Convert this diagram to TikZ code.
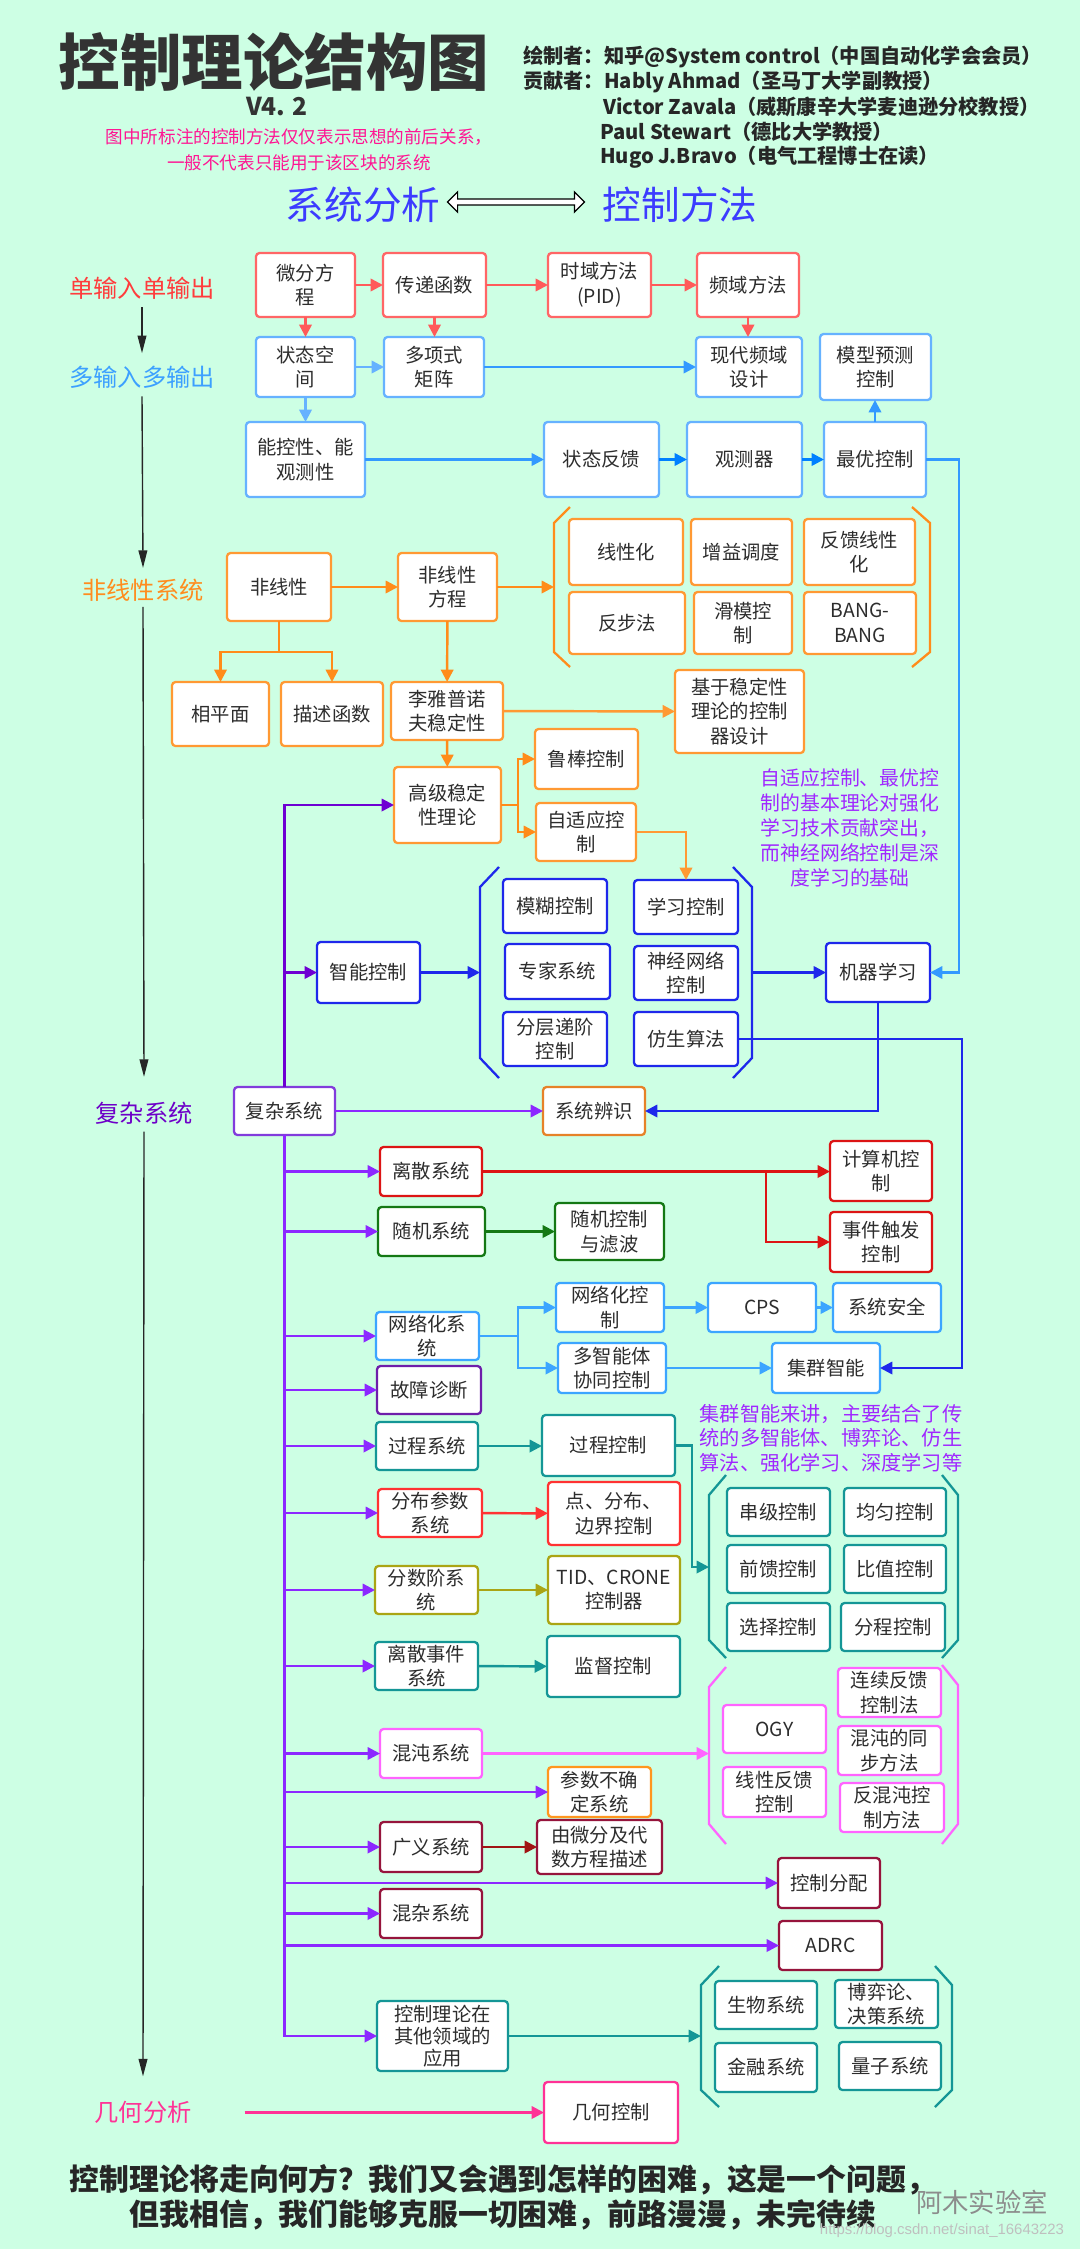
\documentclass[tikz,border=0pt]{standalone}
\usepackage{fontspec}
\setmainfont{Noto Sans CJK SC}
\newfontfamily\wmfont{Liberation Sans}
\usetikzlibrary{arrows.meta,shapes.arrows}
\definecolor{bg}{RGB}{205,255,228}
\definecolor{txtc}{RGB}{45,45,45}
\definecolor{redB}{RGB}{255,102,102}
\definecolor{redA}{RGB}{255,90,90}
\definecolor{blueB}{RGB}{102,178,255}
\definecolor{blueA}{RGB}{51,153,255}
\definecolor{blueD}{RGB}{0,128,255}
\definecolor{oraB}{RGB}{255,153,51}
\definecolor{oraA}{RGB}{255,140,26}
\definecolor{ibl}{RGB}{30,40,235}
\definecolor{purp}{RGB}{110,0,210}
\definecolor{vio}{RGB}{140,40,255}
\definecolor{fzc}{RGB}{130,60,220}
\definecolor{bsc}{RGB}{230,130,40}
\definecolor{redD}{RGB}{220,20,20}
\definecolor{grn}{RGB}{20,120,20}
\definecolor{nbl}{RGB}{60,165,255}
\definecolor{fault}{RGB}{110,30,170}
\definecolor{teal}{RGB}{20,150,150}
\definecolor{red2}{RGB}{255,50,50}
\definecolor{olive}{RGB}{170,165,20}
\definecolor{pinkc}{RGB}{255,100,255}
\definecolor{ora2}{RGB}{255,150,30}
\definecolor{maroon}{RGB}{150,20,60}
\definecolor{darkred}{RGB}{160,20,20}
\definecolor{gpink}{RGB}{255,50,150}
\definecolor{annot}{RGB}{160,40,255}
\definecolor{tblue}{RGB}{60,60,255}
\definecolor{noteC}{RGB}{255,20,147}
\definecolor{labred}{RGB}{255,60,60}
\definecolor{labblue}{RGB}{60,160,255}
\definecolor{labora}{RGB}{255,140,30}
\definecolor{labpurp}{RGB}{110,0,200}
\tikzset{
  box/.style={draw=#1, line width=1.3pt, fill=white, rounded corners=2pt, inner sep=0pt, outer sep=0pt, align=center, text=txtc, font=\fontsize{11}{14}\selectfont},
  arr/.style={draw=#1, line width=1.4pt, -{Triangle[length=7pt,width=7pt]}},
  ln/.style={draw=#1, line width=1.4pt},
  brk/.style={draw=#1, line width=1.3pt},
  blk/.style={draw=black!85, line width=0.8pt, -{Triangle[length=10pt,width=5pt]}},
  lab/.style={text=#1, inner sep=0pt, font=\fontsize{13.8}{16}\selectfont},
}
\newcommand\bx[5]{\bxi{#1}#2;#3;{#4}{#5}}
\def\bxi#1#2,#3;#4,#5;#6#7{\node[box=#1, minimum width={((#4)-(#2))*0.02cm}, minimum height={((#5)-(#3))*0.02cm}] (#6) at ({((#2)+(#4))/2},{((#3)+(#5))/2}) {#7};}
\begin{document}
\begin{tikzpicture}[x=0.02cm,y=-0.02cm]
\fill[bg] (0,0) rectangle (1080,2249);
\useasboundingbox (0,0) rectangle (1080,2249);

% ---------- header ----------
\node[text=black!80, font=\bfseries\fontsize{35}{40}\selectfont] (title) at (274,62) {控制理论结构图};
\node[text=black!80, font=\bfseries\fontsize{14}{16}\selectfont] (ver) at (277,107) {V4. 2};
\node[text=noteC, align=center, font=\fontsize{10}{14.7}\selectfont] (note) at (299,150) {图中所标注的控制方法仅仅表示思想的前后关系，\\一般不代表只能用于该区块的系统};
\begin{scope}[every node/.style={anchor=west, inner sep=0pt, text=black!85, font=\bfseries\fontsize{11.5}{14}\selectfont}]
\node (cr1) at (523,57) {绘制者：知乎@System control（中国自动化学会会员）};
\node (cr2) at (523,82) {贡献者：Hably Ahmad（圣马丁大学副教授）};
\node (cr3) at (603,107) {Victor Zavala（威斯康辛大学麦迪逊分校教授）};
\node (cr4) at (600,132) {Paul Stewart（德比大学教授）};
\node (cr5) at (600,157) {Hugo J.Bravo（电气工程博士在读）};
\end{scope}
\node[text=tblue, font=\fontsize{22}{26}\selectfont] (xtfx) at (363,205) {系统分析};
\node[text=tblue, font=\fontsize{22}{26}\selectfont] (kzff) at (680,205) {控制方法};
\node[double arrow, draw=black, fill=white, line width=0.7pt, minimum height=2.74cm, inner sep=1.4pt, double arrow head extend=4pt] (darr) at (516,202) {};

% ---------- left labels ----------
\node[lab=labred] (lab1) at (142,288) {单输入单输出};
\node[lab=labblue] (lab2) at (142,377) {多输入多输出};
\node[lab=labora] (lab3) at (143,590) {非线性系统};
\node[lab=labpurp] (lab4) at (144,1113) {复杂系统};
\node[lab=gpink] (lab5) at (143,2112.5) {几何分析};
\draw[blk] ([yshift=-4.5pt]lab1.south) -- ([yshift=7pt]lab2.north);
\draw[blk] ([yshift=-4.5pt]lab2.south) -- ([yshift=6pt]lab3.north);
\draw[blk] ([yshift=-3pt]lab3.south) -- ([yshift=14pt]lab4.north);
\draw[blk] ([yshift=-4pt]lab4.south) -- ([yshift=14pt]lab5.north);

% ---------- SISO / MIMO ----------
\bx{redB}{256,253}{355,317}{wf}{微分方\\程}
\bx{redB}{383,253}{486,317}{cd}{传递函数}
\bx{redB}{548,253}{651,317}{sy}{时域方法\\(PID)}
\bx{redB}{697,253}{799,317}{py}{频域方法}
\bx{blueB}{256,337}{355,397}{zt}{状态空\\间}
\bx{blueB}{384,337}{484,397}{dx}{多项式\\矩阵}
\bx{blueB}{696,337}{802,397}{xd}{现代频域\\设计}
\bx{blueB}{820,334}{931,400}{mx}{模型预测\\控制}
\bx{blueB}{246,422}{365,497}{nk}{能控性、能\\观测性}
\bx{blueB}{544,422}{659,497}{zf}{状态反馈}
\bx{blueB}{687,422}{802,497}{gcq}{观测器}
\bx{blueB}{824,422}{926,497}{zy}{最优控制}
\draw[arr=redA] (wf) -- (cd);
\draw[arr=redA] (cd) -- (sy);
\draw[arr=redA] (sy) -- (py);
\draw[arr=redA] (wf) -- (zt);
\draw[arr=redA] (cd.south) -- (cd.south |- dx.north);
\draw[arr=redA] (py.south) -- (py.south |- xd.north);
\draw[arr=blueB] (zt) -- (dx);
\draw[arr=blueA] (dx) -- (xd);
\draw[arr=blueB] (zt) -- (nk);
\draw[arr=blueA] (nk) -- (zf);
\draw[arr=blueD] (zf) -- (gcq);
\draw[arr=blueD] (gcq) -- (zy);
\draw[arr=blueA] (zy.north) -- (zy.north |- mx.south);
\coordinate (rb1) at (959,459.5);

% ---------- nonlinear ----------
\bx{oraB}{227,553}{331,621}{fx}{非线性}
\bx{oraB}{398,553}{497,621}{fxe}{非线性\\方程}
\bx{oraB}{569,519}{683,585}{xxh}{线性化}
\bx{oraB}{691,519}{792,585}{zytd}{增益调度}
\bx{oraB}{804,519}{915,585}{fkxx}{反馈线性\\化}
\bx{oraB}{569,592}{685,654}{bbf}{反步法}
\bx{oraB}{694,592}{792,654}{hm}{滑模控\\制}
\bx{oraB}{804,592}{916,654}{bang}{BANG-\\BANG}
\bx{oraB}{172,682}{269,746}{xpm}{相平面}
\bx{oraB}{281,682}{383,746}{msh}{描述函数}
\bx{oraB}{391,682}{503,740}{lyp}{李雅普诺\\夫稳定性}
\bx{oraB}{675,670}{804,753}{jyw}{基于稳定性\\理论的控制\\器设计}
\bx{oraB}{394,767}{501,843}{gjw}{高级稳定\\性理论}
\bx{oraB}{535,729}{638,789}{lb}{鲁棒控制}
\bx{oraB}{536,803}{636,861}{zsy}{自适应控\\制}
\draw[brk=oraA] (570,507) -- (554,523) -- (554,652) -- (570,667);
\draw[brk=oraA] (912,507) -- (930,523) -- (930,652) -- (912,667);
\coordinate (obr) at (554,587);
\draw[arr=oraA] (fx) -- (fxe);
\draw[arr=oraA] (fxe.east) -- (obr);
\coordinate (fxj) at (279,652);
\draw[ln=oraA] (fx.south) -- (fxj);
\draw[arr=oraA] (fxj) -| (xpm.north);
\draw[arr=oraA] (fxj) -| (msh.north);
\draw[arr=oraA] (fxe) -- (lyp);
\draw[arr=oraB] (lyp) -- (jyw);
\draw[arr=oraA] (lyp) -- (gjw);
\coordinate (gj1) at (518,805);
\draw[ln=oraA] (gjw.east) -- (gj1);
\draw[arr=oraA] (gj1) |- (lb.west);
\draw[arr=oraA] (gj1) |- (zsy.west);

\node[text=annot, align=center, font=\fontsize{11.3}{14.2}\selectfont] (ann1) at (850,828) {自适应控制、最优控\\制的基本理论对强化\\学习技术贡献突出，\\而神经网络控制是深\\度学习的基础};

% ---------- intelligent control ----------
\bx{ibl}{317,942}{420,1003}{zn}{智能控制}
\bx{ibl}{503,879}{607,933}{mh}{模糊控制}
\bx{ibl}{634,880}{738,934}{xxkz}{学习控制}
\bx{ibl}{505,944}{610,999}{zj}{专家系统}
\bx{ibl}{634,946}{738,1000}{sj}{神经网络\\控制}
\bx{ibl}{503,1012}{607,1066}{fc}{分层递阶\\控制}
\bx{ibl}{634,1012}{738,1066}{fs}{仿生算法}
\bx{ibl}{826,943}{930,1002}{ml}{机器学习}
\bx{fzc}{234,1087}{335,1135}{fz}{复杂系统}
\bx{bsc}{543,1087}{645,1135}{bs}{系统辨识}
\draw[brk=ibl] (499,867) -- (480,887) -- (480,1058) -- (499,1078);
\draw[brk=ibl] (733,867) -- (752,887) -- (752,1058) -- (733,1078);
\coordinate (bl) at (480,972.5);
\coordinate (br) at (752,972.5);
\draw[arr=oraB] (zsy.east) -| (xxkz.north);
\draw[arr=ibl] (zn.east) -- (bl);
\draw[arr=ibl] (br) -- (ml.west);
\draw[arr=blueA] (zy.east) -- (rb1) |- (ml.east);
\draw[arr=ibl] (ml.south) |- (bs.east);
\coordinate (rb2) at (962,1039);
\draw[arr=purp] (fz.north) |- (gjw.west);
\draw[arr=purp] (fz.north |- zn.west) -- (zn.west);
\draw[arr=vio] (fz) -- (bs);

% ---------- complex systems ----------
\bx{redD}{380,1147}{482,1196}{ls}{离散系统}
\bx{redD}{830,1141}{932,1201}{jsj}{计算机控\\制}
\bx{redD}{830,1212}{932,1272}{sjcf}{事件触发\\控制}
\bx{grn}{378,1207}{485,1256}{sjxt}{随机系统}
\bx{grn}{555,1203}{664,1260}{sjkz}{随机控制\\与滤波}
\bx{nbl}{376,1312}{479,1360}{wlxt}{网络化系\\统}
\bx{nbl}{556,1283}{664,1332}{wlkz}{网络化控\\制}
\bx{nbl}{558,1343}{666,1393}{dzn}{多智能体\\协同控制}
\bx{nbl}{708,1283}{816,1332}{cps}{CPS}
\bx{nbl}{833,1283}{941,1332}{aq}{系统安全}
\bx{nbl}{772,1343}{880,1393}{jq}{集群智能}
\draw[arr=ibl] (fs.east) -- (rb2) |- (jq.east);
\bx{fault}{377,1366}{481,1414}{gz}{故障诊断}
\bx{teal}{376,1422}{478,1470}{gc2}{过程系统}
\bx{teal}{542,1415}{675,1476}{gckz}{过程控制}
\bx{teal}{727,1488}{830,1536}{cj}{串级控制}
\bx{teal}{844,1488}{946,1536}{jy}{均匀控制}
\bx{teal}{727,1545}{830,1593}{qk}{前馈控制}
\bx{teal}{844,1545}{946,1593}{bz}{比值控制}
\bx{teal}{727,1603}{830,1651}{xz}{选择控制}
\bx{teal}{841,1603}{945,1651}{fck}{分程控制}
\bx{red2}{378,1489}{482,1537}{fbcs}{分布参数\\系统}
\bx{red2}{548,1482}{680,1545}{djbj}{点、分布、\\边界控制}
\bx{olive}{375,1566}{478,1614}{fsj}{分数阶系\\统}
\bx{olive}{548,1556}{680,1624}{tid}{TID、CRONE\\控制器}
\bx{teal}{375,1642}{478,1690}{lssj}{离散事件\\系统}
\bx{teal}{547,1636}{680,1697}{jd}{监督控制}
\bx{pinkc}{380,1729}{482,1778}{hd}{混沌系统}
\bx{pinkc}{723,1705}{826,1753}{ogy}{OGY}
\bx{pinkc}{838,1668}{941,1717}{lxfk}{连续反馈\\控制法}
\bx{pinkc}{838,1726}{941,1775}{hdtb}{混沌的同\\步方法}
\bx{pinkc}{723,1767}{826,1817}{xxfk}{线性反馈\\控制}
\bx{pinkc}{840,1783}{944,1832}{fhd}{反混沌控\\制方法}
\bx{ora2}{548,1767}{651,1817}{csbq}{参数不确\\定系统}
\bx{maroon}{380,1822}{482,1872}{gy}{广义系统}
\bx{maroon}{537,1820}{662,1874}{ywf}{由微分及代\\数方程描述}
\bx{maroon}{778,1858}{880,1908}{kzfp}{控制分配}
\bx{maroon}{380,1889}{482,1938}{hz}{混杂系统}
\bx{maroon}{779,1921}{882,1970}{adrc}{ADRC}
\bx{teal}{715,1981}{817,2029}{sw}{生物系统}
\bx{teal}{835,1980}{938,2028}{byl}{博弈论、\\决策系统}
\bx{teal}{715,2043}{817,2092}{jr}{金融系统}
\bx{teal}{839,2042}{941,2090}{lz}{量子系统}
\node[box=teal, minimum width=2.62cm, minimum height=1.4cm, font=\fontsize{11}{12.5}\selectfont] (kz) at (442.5,2036) {控制理论在\\其他领域的\\应用};
\bx{gpink}{544,2082}{678,2143}{jh}{几何控制}

\draw[brk=teal] (726,1475) -- (709,1495) -- (709,1640) -- (726,1658);
\draw[brk=teal] (942,1475) -- (958,1495) -- (958,1640) -- (942,1658);
\draw[brk=pinkc] (726,1667) -- (709,1687) -- (709,1824) -- (726,1844);
\draw[brk=pinkc] (942,1665) -- (958,1685) -- (958,1824) -- (942,1844);
\draw[brk=teal] (719,1966) -- (701,1985) -- (701,2090) -- (719,2107);
\draw[brk=teal] (935,1966) -- (952,1985) -- (952,2090) -- (935,2107);
\coordinate (tbl) at (709,1567);
\coordinate (pbl) at (709,1753.5);
\coordinate (tb2) at (701,2036);

% trunk
\draw[arr=vio] (fz.south) |- (kz.west);
\foreach \n in {ls,sjxt,wlxt,gz,gc2,fbcs,fsj,lssj,hd,csbq,gy,kzfp,hz,adrc}
  \draw[arr=vio] (fz.south |- \n.west) -- (\n.west);

\draw[arr=redD] (ls.east) -- (ls.east -| jsj.west);
\coordinate (lsj) at (766,1171.5);
\draw[arr=redD] (lsj) |- (sjcf.west);
\draw[arr=grn] (sjxt) -- (sjkz);
\coordinate (wj) at (518,1336);
\draw[ln=nbl] (wlxt.east) -- (wj);
\draw[arr=nbl] (wj) |- (wlkz.west);
\draw[arr=nbl] (wj) |- (dzn.west);
\draw[arr=nbl] (wlkz) -- (cps);
\draw[arr=nbl] (cps) -- (aq);
\draw[arr=nbl] (dzn) -- (jq);
\draw[arr=teal] (gc2.east) -- (gc2.east -| gckz.west);
\coordinate (gj2) at (692,1567);
\draw[arr=teal] (gckz.east) -| (gj2) -- (tbl);
\draw[arr=red2] (fbcs) -- (djbj);
\draw[arr=olive] (fsj) -- (tid);
\draw[arr=teal] (lssj) -- (jd);
\draw[arr=pinkc] (hd.east) -- (pbl);
\draw[arr=darkred] (gy) -- (ywf);
\draw[arr=teal] (kz.east) -- (tb2);
\draw[arr=gpink] ([xshift=30pt]lab5.east) -- (jh.west);

\node[text=annot, align=center, font=\fontsize{11.5}{14}\selectfont] (ann2) at (831,1438) {集群智能来讲，主要结合了传\\统的多智能体、博弈论、仿生\\算法、强化学习、深度学习等};

% ---------- bottom ----------
\node[text=black!85, align=center, font=\bfseries\fontsize{17}{20}\selectfont] (bottom) at (503,2197) {控制理论将走向何方？我们又会遇到怎样的困难，这是一个问题，\\但我相信，我们能够克服一切困难，前路漫漫，未完待续};
\node[text=black!45, font=\fontsize{15}{17}\selectfont] (wm1) at (982,2202) {阿木实验室};
\node[text=black!25, font=\wmfont\fontsize{8.5}{10}\selectfont] (wm2) at (942,2231) {https://blog.csdn.net/sinat\_16643223};
\end{tikzpicture}
\end{document}
